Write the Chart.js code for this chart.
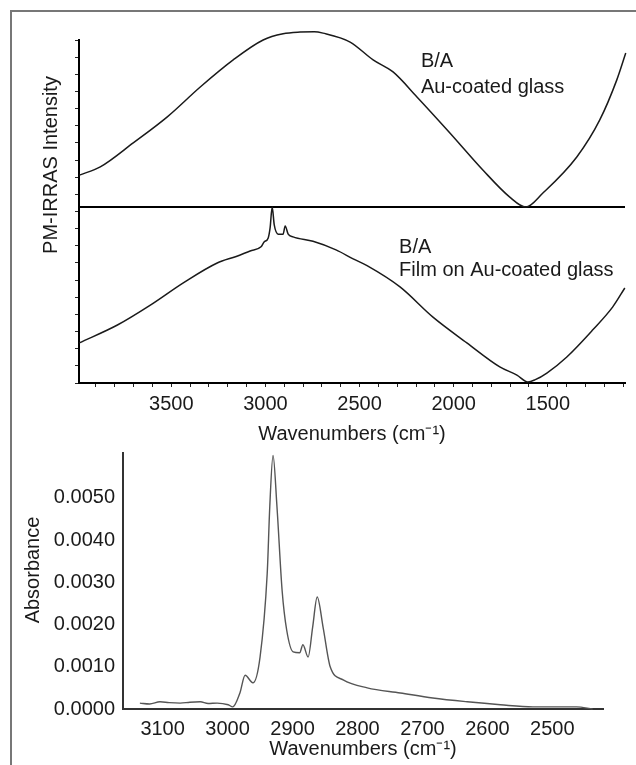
<!DOCTYPE html>
<html>
<head>
<meta charset="utf-8">
<script src="https://cdn.jsdelivr.net/npm/chart.js@4.4.1/dist/chart.umd.min.js"></script>
<style>
  html, body { margin: 0; padding: 0; background: #fff; overflow: hidden; }
  body { width: 636px; height: 765px; position: relative; }
  .frame { position: absolute; left: 10px; top: 10px; width: 700px; height: 800px; border: 2px solid #777; box-sizing: border-box; }
  #topWrap { position: absolute; left: 0; top: 0; width: 636px; height: 450px; }
  #botWrap { position: absolute; left: 0; top: 450px; width: 636px; height: 315px; }
</style>
</head>
<body>
<div class="frame"></div>
<div id="topWrap"><canvas id="pmChart"></canvas></div>
<div id="botWrap"><canvas id="absChart"></canvas></div>
<script>
// PM-IRRAS, bare Au-coated glass (wavenumber, intensity a.u.)
const bareWn  = [3988, 3877, 3702, 3521, 3346, 3171, 3012, 2906, 2816, 2740, 2694, 2550, 2428, 2322, 2195, 2020, 1845, 1702, 1617, 1526, 1346, 1224, 1134, 1086];
const bareInt = [60.6, 63.0, 70.0, 77.6, 86.3, 94.2, 100.0, 101.8, 102.3, 102.4, 102.0, 99.4, 94.2, 90.7, 83.4, 72.9, 62.1, 54.2, 51.3, 55.4, 65.9, 76.7, 88.3, 96.2];

// PM-IRRAS, film on Au-coated glass
const filmWn  = [3988, 3786, 3611, 3436, 3256, 3155, 3081, 3023, 3007, 2985, 2975, 2964, 2953, 2932, 2906, 2895, 2879, 2853, 2747, 2625, 2534, 2460, 2285, 2110, 1930, 1755, 1664, 1606, 1569, 1505, 1399, 1261, 1155, 1091];
const filmInt = [11.7, 16.9, 22.7, 29.2, 35.0, 36.9, 38.5, 39.7, 41.1, 42.3, 45.2, 51.3, 46.1, 43.4, 43.4, 45.8, 43.4, 42.6, 41.3, 38.8, 36.2, 34.2, 28.0, 19.2, 11.7, 4.7, 2.3, 0.3, 0.9, 2.9, 7.6, 15.5, 22.2, 27.7];

// separator line between the two PM-IRRAS traces
const sepWn  = [1090, 3990];
const sepInt = [51.3, 51.3];

const topTickLabels = [3500, 3000, 2500, 2000, 1500];

// Absorbance spectrum (difference)
const absWn  = [3135, 3120, 3104, 3090, 3073, 3058, 3042, 3030, 3016, 2999, 2992, 2981, 2973, 2961, 2950, 2939, 2935, 2930, 2924, 2916, 2909, 2899, 2889, 2884, 2876, 2869, 2862, 2853, 2842, 2822, 2785, 2734, 2684, 2631, 2580, 2530, 2463, 2438];
const absVal = [0.00014, 0.00012, 0.00017, 0.00015, 0.00014, 0.00016, 0.00017, 0.00013, 0.00014, 0.0001, 0.00005, 0.00038, 0.0008, 0.00062, 0.00123, 0.0032, 0.0048, 0.0060, 0.0048, 0.0028, 0.00187, 0.00135, 0.00133, 0.00152, 0.00123, 0.00194, 0.00265, 0.00194, 0.001, 0.00069, 0.0005, 0.00038, 0.00026, 0.00017, 0.0001, 0.00005, 0.00005, 0];

const absTickLabels = [3100, 3000, 2900, 2800, 2700, 2600, 2500];
const absYTicks = [0, 0.001, 0.002, 0.003, 0.004, 0.005];

Chart.defaults.font.family = '"Liberation Sans", Arial, sans-serif';
Chart.defaults.color = '#1a1a1a';

const pts = (xs, ys) => xs.map((x, i) => ({ x: x, y: ys[i] }));

// rotated y title drawn at a fixed spot, plus text notes in data coords
const textPlugin = {
    id: 'textBits',
    afterDraw(chart, args, opts) {
        const ctx = chart.ctx;
        ctx.save();
        ctx.fillStyle = '#1a1a1a';
        if (opts.side) {
            ctx.font = opts.side.size + 'px "Liberation Sans", Arial, sans-serif';
            ctx.translate(opts.side.x, opts.side.y);
            ctx.rotate(-Math.PI / 2);
            ctx.textAlign = 'center';
            ctx.textBaseline = 'middle';
            ctx.fillText(opts.side.text, 0, 0);
            ctx.setTransform(1, 0, 0, 1, 0, 0);
        }
        (opts.notes || []).forEach(n => {
            ctx.font = '20px "Liberation Sans", Arial, sans-serif';
            ctx.textAlign = 'left';
            ctx.textBaseline = 'middle';
            ctx.fillText(n.text, chart.scales.x.getPixelForValue(n.x), chart.scales.y.getPixelForValue(n.y));
        });
        ctx.restore();
    }
};

new Chart(document.getElementById('pmChart'), {
    type: 'line',
    plugins: [textPlugin],
    data: {
        datasets: [{
            data: pts(bareWn, bareInt),
            borderColor: '#1a1a1a',
            borderWidth: 1.5,
            pointRadius: 0,
            cubicInterpolationMode: 'monotone',
            clip: false
        }, {
            data: pts(filmWn, filmInt),
            borderColor: '#1a1a1a',
            borderWidth: 1.5,
            pointRadius: 0,
            cubicInterpolationMode: 'monotone',
            clip: false
        }, {
            data: pts(sepWn, sepInt),
            borderColor: '#000',
            borderWidth: 2,
            pointRadius: 0
        }]
    },
    options: {
        responsive: true,
        maintainAspectRatio: false,
        animation: false,
        layout: { padding: { top: 40, right: 11, left: 0, bottom: 0 } },
        plugins: {
            legend: { display: false },
            tooltip: { enabled: false },
            textBits: {
                side: { text: 'PM-IRRAS Intensity', x: 51, y: 165, size: 20 },
                notes: [
                    { text: 'B/A', x: 2174, y: 93.6 },
                    { text: 'Au-coated glass', x: 2174, y: 86.3 },
                    { text: 'B/A', x: 2290, y: 39.4 },
                    { text: 'Film on Au-coated glass', x: 2290, y: 32.9 }
                ]
            }
        },
        scales: {
            x: {
                type: 'linear',
                reverse: true,
                min: 1090,
                max: 3990,
                afterFit: (s) => { s.height = 67; },
                afterBuildTicks: (s) => {
                    const t = [];
                    for (let v = 1100; v <= 3900; v += 100) t.push({ value: v });
                    s.ticks = t;
                },
                ticks: {
                    autoSkip: false,
                    maxRotation: 0,
                    padding: 5,
                    font: { size: 20 },
                    callback: (v) => topTickLabels.includes(v) ? String(v) : ''
                },
                grid: { drawOnChartArea: false, drawTicks: true, tickLength: 4, color: '#222' },
                border: { display: true, color: '#000', width: 2 },
                title: { display: true, text: 'Wavenumbers (cm⁻¹)', font: { size: 20 }, padding: { top: 0, bottom: 4 } }
            },
            y: {
                min: 0,
                max: 100,
                afterFit: (s) => { s.width = 79; },
                ticks: { display: false, stepSize: 5 },
                grid: { drawOnChartArea: false, drawTicks: true, tickLength: 4, color: '#222' },
                border: { display: true, color: '#000', width: 2 }
            }
        }
    }
});

new Chart(document.getElementById('absChart'), {
    type: 'line',
    plugins: [textPlugin],
    data: {
        datasets: [{
            data: pts(absWn, absVal),
            borderColor: '#555',
            borderWidth: 1.4,
            pointRadius: 0,
            cubicInterpolationMode: 'monotone',
            clip: false
        }]
    },
    options: {
        responsive: true,
        maintainAspectRatio: false,
        animation: false,
        layout: { padding: { top: 3, right: 33, left: 0, bottom: 0 } },
        plugins: {
            legend: { display: false },
            tooltip: { enabled: false },
            textBits: { side: { text: 'Absorbance', x: 33, y: 120, size: 20 } }
        },
        scales: {
            x: {
                type: 'linear',
                reverse: true,
                min: 2422,
                max: 3161,
                afterFit: (s) => { s.height = 56; },
                afterBuildTicks: (s) => { s.ticks = absTickLabels.map(v => ({ value: v })); },
                ticks: { autoSkip: false, maxRotation: 0, padding: 0, font: { size: 20 }, callback: (v) => String(v) },
                grid: { display: false },
                border: { display: true, color: '#333', width: 2 },
                title: { display: true, text: 'Wavenumbers (cm⁻¹)', font: { size: 20 }, padding: { top: 0, bottom: 4 } }
            },
            y: {
                min: 0,
                max: 0.00606,
                afterFit: (s) => { s.width = 123; s.paddingTop = 0; s.paddingBottom = 0; },
                afterBuildTicks: (s) => { s.ticks = absYTicks.map(v => ({ value: v })); },
                ticks: { padding: 0, font: { size: 20 }, callback: (v) => v.toFixed(4) },
                grid: { display: false },
                border: { display: true, color: '#333', width: 2 }
            }
        }
    }
});
</script>
</body>
</html>
